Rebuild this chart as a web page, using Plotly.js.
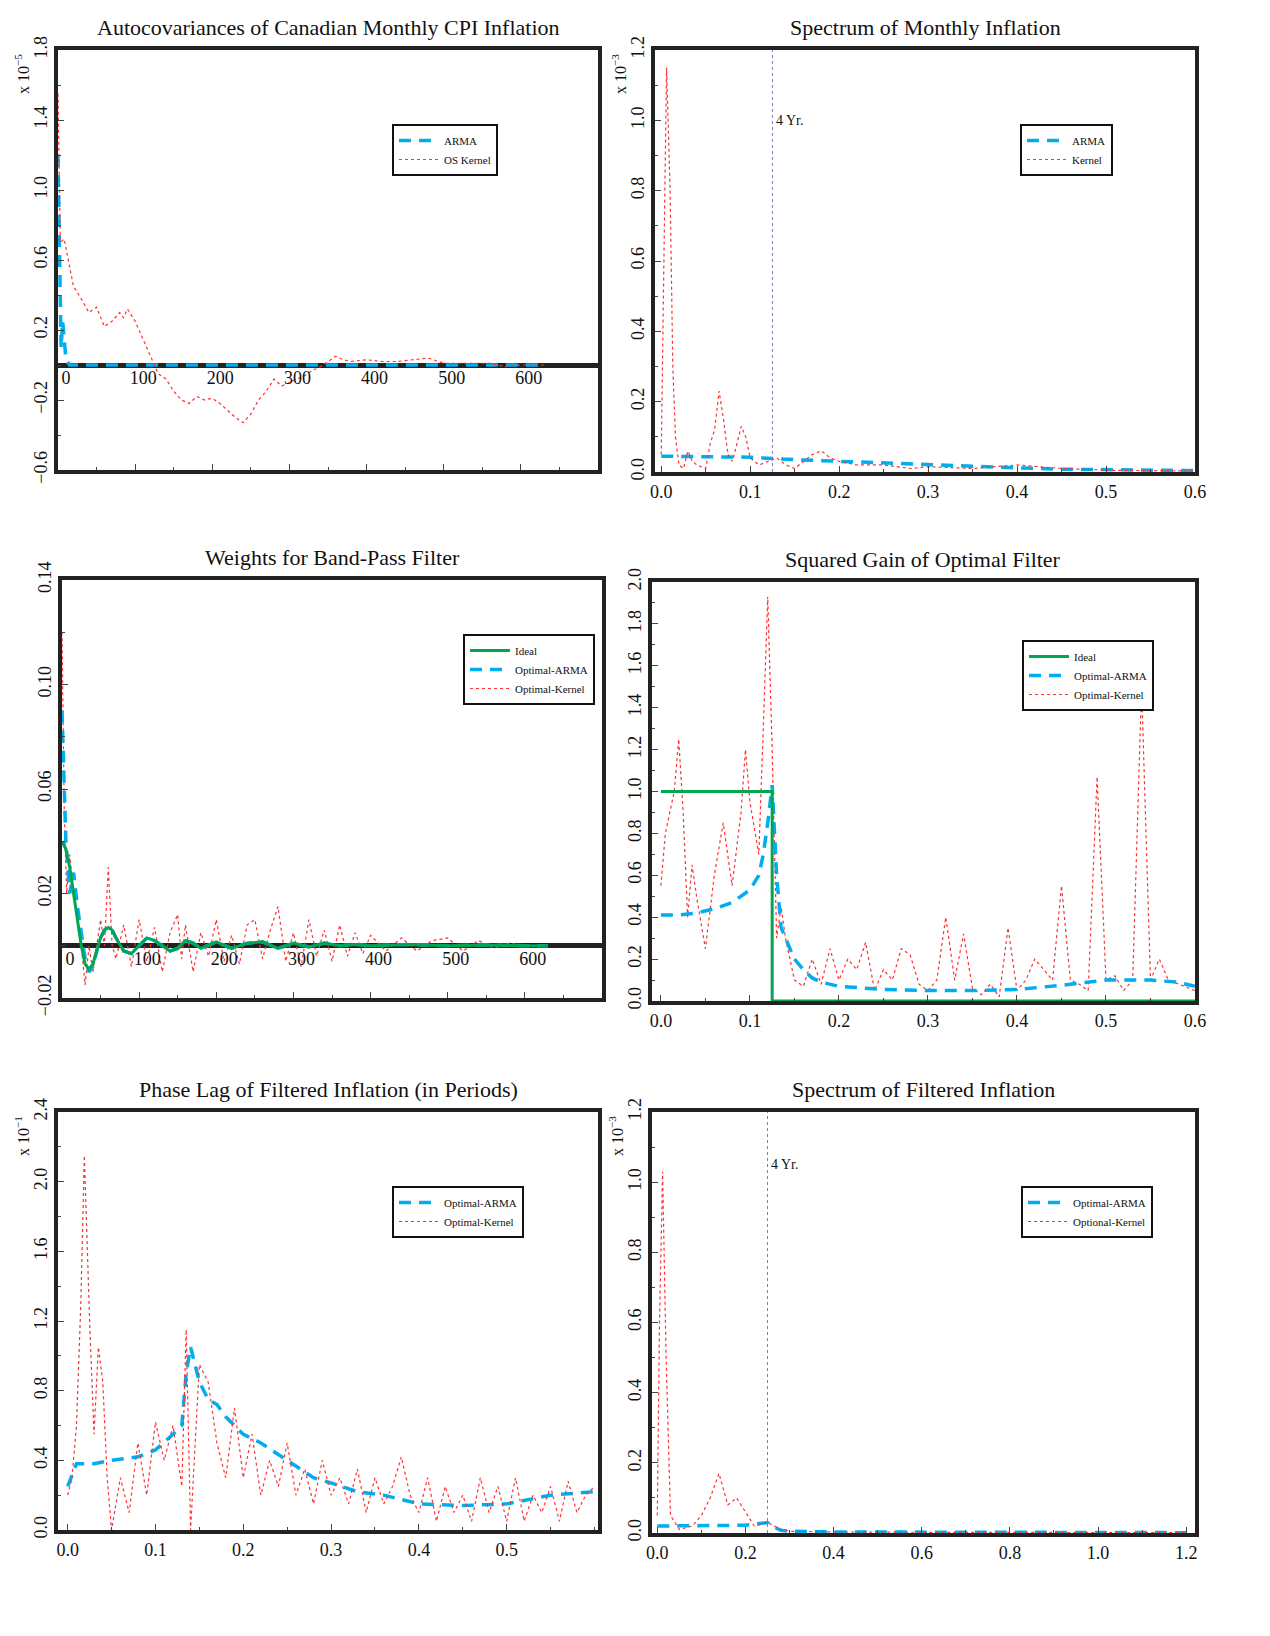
<!DOCTYPE html>
<html><head><meta charset="utf-8">
<script src="https://cdn.plot.ly/plotly-3.0.1.min.js"></script>
<style>body{margin:0;background:#fff}</style>
</head><body>
<div id="chart" style="width:1270px;height:1636px"></div>
<script>
// ---- Panel 1: autocovariances (x 1e-5)
var acLag = [0,2,4,6,8,10,12,15,20,30,60,100,200,300,400,500,600,630];
var acArma = [1.2,0.6,0.1,0.25,0.15,0.05,0.02,0,0,0,0,0,0,0,0,0,0,0];
var acKLag = [0,3,8,15,20,30,40,50,60,70,80,85,90,100,110,120,130,140,150,160,170,180,190,200,210,220,230,240,250,260,270,280,290,300,310,320,330,340,350,360,370,380,400,420,440,460,480,500,520,540,560,580,600,630];
var acKernel = [1.55,0.7,0.72,0.55,0.45,0.38,0.3,0.33,0.22,0.25,0.3,0.27,0.32,0.25,0.15,0.05,-0.05,-0.08,-0.15,-0.2,-0.22,-0.18,-0.2,-0.19,-0.22,-0.26,-0.3,-0.33,-0.28,-0.2,-0.15,-0.08,-0.12,-0.1,-0.08,-0.06,-0.03,-0.01,0.02,0.05,0.03,0.02,0.03,0.02,0.02,0.03,0.04,0.01,0.01,0.01,0.01,-0.01,0,0];

// ---- Panel 2: spectrum of monthly inflation (x 1e-3)
var spFK = [0,0.003,0.006,0.01,0.013,0.016,0.02,0.025,0.03,0.035,0.04,0.05,0.055,0.06,0.065,0.07,0.075,0.08,0.085,0.09,0.095,0.1,0.11,0.12,0.13,0.14,0.15,0.16,0.17,0.18,0.19,0.2,0.22,0.25,0.28,0.3,0.35,0.4,0.45,0.5,0.55,0.6];
var spKernel = [0.05,0.6,1.15,0.8,0.3,0.1,0.02,0.01,0.06,0.03,0.02,0.01,0.08,0.12,0.23,0.15,0.05,0.03,0.08,0.13,0.1,0.04,0.02,0.03,0.04,0.02,0.01,0.03,0.05,0.06,0.04,0.03,0.02,0.02,0.01,0.015,0.01,0.02,0.01,0.005,0.005,0.003];
var spFA = [0,0.1,0.15,0.2,0.25,0.3,0.35,0.4,0.45,0.5,0.55,0.6];
var spArma = [0.045,0.042,0.035,0.03,0.025,0.02,0.016,0.012,0.008,0.006,0.005,0.004];

// ---- Panel 3: weights for band-pass filter
var wLag = [0,5,10,15,20,25,30,35,40,45,50,55,60,65,70,80,90,100,110,120,130,140,150,160,170,180,200,220,240,260,280,300,320,340,360,380,400,450,500,550,600,630];
var wIdeal = [0.04,0.037,0.03,0.02,0.01,0,-0.007,-0.009,-0.007,-0.002,0.003,0.006,0.007,0.006,0.003,-0.002,-0.003,0,0.003,0.002,0,-0.002,-0.001,0.002,0.001,-0.001,0.0015,-0.001,0.001,0.0015,-0.001,0.001,-0.0005,0.001,0,0.0005,0,0.0005,0,0.0003,0,0];
var wArma = [0.09,0.04,0.02,0.028,0.015,0.005,-0.005,-0.01,-0.008,-0.002,0.003,0.006,0.007,0.006,0.003,-0.002,-0.003,0,0.003,0.002,0,-0.002,-0.001,0.002,0.001,-0.001,0.0015,-0.001,0.001,0.0015,-0.001,0.001,-0.0005,0.001,0,0.0005,0,0.0005,0,0.0003,0,0];
var wKLag = [0,3,6,10,15,20,25,30,35,40,50,55,60,65,70,80,90,100,110,120,130,140,150,155,160,170,180,190,200,210,220,230,240,250,260,270,280,290,300,310,320,330,340,350,360,370,380,390,400,420,440,460,480,500,520,540,560,580,600,630];
var wKernel = [0.12,0.05,0.02,0.035,0.02,0.01,0,-0.015,0,-0.01,0.01,0,0.03,0,-0.005,0.008,-0.008,0.01,-0.006,0.007,-0.01,0.005,0.012,-0.005,0.008,-0.01,0.005,-0.004,0.01,-0.006,0.004,-0.007,0.008,0.01,-0.005,0.006,0.015,-0.006,0.005,-0.008,0.01,-0.004,0.006,-0.006,0.008,-0.004,0.005,-0.003,0.004,-0.002,0.003,-0.002,0.002,0.003,-0.002,0.002,-0.001,0.001,0,0];

// ---- Panel 4: squared gain
var gIdealF = [0,0.125,0.125,0.6];
var gIdeal = [1,1,0,0];
var gFA = [0,0.02,0.04,0.06,0.08,0.1,0.11,0.115,0.12,0.125,0.13,0.135,0.14,0.15,0.16,0.17,0.18,0.2,0.25,0.3,0.35,0.4,0.45,0.5,0.55,0.58,0.6];
var gArma = [0.41,0.41,0.42,0.44,0.47,0.53,0.6,0.7,0.85,1.03,0.6,0.35,0.3,0.2,0.15,0.11,0.09,0.07,0.055,0.05,0.05,0.055,0.075,0.1,0.1,0.09,0.07];
var gFK = [0,0.005,0.015,0.02,0.025,0.03,0.035,0.04,0.05,0.06,0.07,0.075,0.08,0.09,0.095,0.1,0.11,0.115,0.12,0.125,0.13,0.135,0.14,0.15,0.16,0.17,0.18,0.19,0.2,0.21,0.22,0.23,0.24,0.25,0.26,0.27,0.28,0.29,0.3,0.31,0.32,0.33,0.34,0.35,0.36,0.37,0.38,0.39,0.4,0.41,0.42,0.43,0.44,0.45,0.46,0.47,0.48,0.49,0.5,0.51,0.52,0.53,0.54,0.55,0.56,0.57,0.6];
var gKernel = [0.55,0.8,1.0,1.25,0.9,0.4,0.65,0.5,0.25,0.6,0.85,0.7,0.55,0.9,1.2,0.95,0.7,1.3,1.93,1.2,0.3,0.45,0.3,0.1,0.07,0.2,0.08,0.25,0.1,0.2,0.15,0.28,0.05,0.15,0.1,0.25,0.22,0.08,0.05,0.1,0.4,0.1,0.32,0.06,0.03,0.08,0.02,0.35,0.05,0.1,0.2,0.15,0.1,0.55,0.1,0.08,0.05,1.07,0.1,0.12,0.05,0.1,1.5,0.1,0.2,0.1,0.05];

// ---- Panel 5: phase lag (x 1e-1)
var pFA = [0,0.01,0.03,0.05,0.08,0.1,0.12,0.13,0.135,0.14,0.15,0.16,0.17,0.18,0.2,0.22,0.25,0.28,0.3,0.33,0.36,0.4,0.45,0.5,0.55,0.6];
var pArma = [0.25,0.38,0.38,0.4,0.42,0.46,0.55,0.6,0.9,1.05,0.85,0.75,0.72,0.65,0.55,0.5,0.4,0.3,0.27,0.22,0.2,0.15,0.14,0.15,0.2,0.22];
var pFK = [0,0.005,0.01,0.015,0.019,0.025,0.03,0.035,0.04,0.045,0.05,0.06,0.07,0.08,0.09,0.1,0.11,0.12,0.13,0.135,0.14,0.15,0.16,0.17,0.18,0.19,0.2,0.21,0.22,0.23,0.24,0.25,0.26,0.27,0.28,0.29,0.3,0.31,0.32,0.33,0.34,0.35,0.36,0.37,0.38,0.39,0.4,0.41,0.42,0.43,0.44,0.45,0.46,0.47,0.48,0.49,0.5,0.51,0.52,0.53,0.54,0.55,0.56,0.57,0.58,0.59,0.6];
var pKernel = [0.2,0.3,0.6,1.3,2.15,1.2,0.55,1.05,0.85,0.3,0,0.3,0.1,0.5,0.2,0.62,0.4,0.6,0.25,1.15,0.0,0.95,0.85,0.5,0.3,0.7,0.3,0.55,0.2,0.4,0.25,0.5,0.2,0.35,0.15,0.4,0.2,0.3,0.15,0.35,0.1,0.3,0.15,0.25,0.42,0.2,0.1,0.3,0.05,0.25,0.1,0.2,0.05,0.3,0.1,0.25,0.05,0.3,0.05,0.2,0.1,0.25,0.05,0.28,0.1,0.2,0.25];

// ---- Panel 6: spectrum of filtered inflation (x 1e-3)
var sFK = [0,0.005,0.012,0.02,0.03,0.05,0.08,0.1,0.12,0.14,0.16,0.18,0.2,0.22,0.25,0.28,0.3,0.4,0.6,0.8,1.0,1.2];
var sKernel = [0.05,0.6,1.03,0.5,0.05,0.01,0.02,0.05,0.1,0.17,0.08,0.1,0.06,0.02,0.03,0.01,0.005,0.003,0.002,0.001,0.001,0.001];
var sFA = [0,0.1,0.2,0.25,0.26,0.28,0.3,0.4,0.6,0.8,1.0,1.2];
var sArma = [0.02,0.02,0.022,0.03,0.02,0.008,0.005,0.003,0.002,0.001,0.001,0.001];

var W = 1270, H = 1636;
var cyan = '#00aeef', red = '#ff3030', green = '#00a651';
var font = {family: 'Liberation Serif, Times New Roman, serif', color: '#111'};

// panels: pixel boxes [left, right, top, bottom]
var boxes = [[58,598,50,470],[655,1195,50,472],[62,602,580,998],[652,1195,582,1001],[58,598,1112,1530],[652,1195,1112,1533]];
function dx(b){ return [b[0]/W, b[1]/W]; }
function dy(b){ return [1-b[3]/H, 1-b[2]/H]; }

var layout = {width: W, height: H, margin: {l:0,r:0,t:0,b:0}, paper_bgcolor:'#fff', plot_bgcolor:'#fff',
  font: Object.assign({size:17}, font), showlegend: true, shapes: [], annotations: []};

var yspec = [
  {range:[-0.6,1.8], dtick:0.4, tick0:-0.6, minor:0.2, fmt:'.1f'},
  {range:[0,1.2], dtick:0.2, tick0:0, minor:0.1, fmt:'.1f'},
  {range:[-0.02,0.14], dtick:0.04, tick0:-0.02, minor:0.02, fmt:'.2f'},
  {range:[0,2.0], dtick:0.2, tick0:0, minor:0.1, fmt:'.1f'},
  {range:[0,2.4], dtick:0.4, tick0:0, minor:0.2, fmt:'.1f'},
  {range:[0,1.2], dtick:0.2, tick0:0, minor:0.1, fmt:'.1f'}
];
var xspec = [
  {range:[0,700], vals:[0,100,200,300,400,500,600], minor:50, fmt:'d'},
  {range:[-0.007,0.6], vals:[0,0.1,0.2,0.3,0.4,0.5,0.6], minor:0.05, fmt:'.1f'},
  {range:[0,700], vals:[0,100,200,300,400,500,600], minor:50, fmt:'d'},
  {range:[-0.01,0.6], vals:[0,0.1,0.2,0.3,0.4,0.5,0.6], minor:0.05, fmt:'.1f'},
  {range:[-0.011,0.604], vals:[0,0.1,0.2,0.3,0.4,0.5], minor:0.05, fmt:'.1f'},
  {range:[-0.012,1.22], vals:[0,0.2,0.4,0.6,0.8,1.0,1.2], minor:0.1, fmt:'.1f'}
];
var titles = ['Autocovariances of Canadian Monthly CPI Inflation','Spectrum of Monthly Inflation','Weights for Band-Pass Filter',
  'Squared Gain of Optimal Filter','Phase Lag of Filtered Inflation (in Periods)','Spectrum of Filtered Inflation'];
var mult = ['x 10<sup>−5</sup>','x 10<sup>−3</sup>',null,null,'x 10<sup>−1</sup>','x 10<sup>−3</sup>'];

for (var i = 0; i < 6; i++) {
  var b = boxes[i], n = i + 1, xs = xspec[i], ys = yspec[i];
  var zeroAxis = (i === 0 || i === 2);
  layout['xaxis' + n] = {domain: dx(b), anchor: 'y' + n, range: xs.range, showgrid: false, zeroline: false,
    showline: true, mirror: true, linewidth: 4, linecolor: '#222', ticks: 'inside', ticklen: 6,
    tickvals: xs.vals, tickformat: xs.fmt, showticklabels: !zeroAxis, tickfont: {size: 18},
    minor: {dtick: xs.minor, ticks: 'inside', ticklen: 3}};
  layout['yaxis' + n] = {domain: dy(b), anchor: 'x' + n, range: ys.range, showgrid: false,
    zeroline: zeroAxis, zerolinewidth: 5, zerolinecolor: '#222',
    showline: true, mirror: true, linewidth: 4, linecolor: '#222', ticks: 'inside', ticklen: 6,
    tick0: ys.tick0, dtick: ys.dtick, tickformat: ys.fmt, tickangle: -90, tickfont: {size: 18},
    minor: {dtick: ys.minor, ticks: 'inside', ticklen: 3}};
  if (zeroAxis) {
    // tick labels drawn along the zero line
    var d = dy(b), pos = d[0] + (0 - ys.range[0]) / (ys.range[1] - ys.range[0]) * (d[1] - d[0]);
    layout['xaxis' + (n + 10)] = {domain: dx(b), overlaying: 'x' + n, anchor: 'free', position: pos,
      range: xs.range, tickvals: xs.vals, tickformat: xs.fmt, showgrid: false, zeroline: false,
      showline: false, ticks: '', tickfont: {size: 18}, ticklabelshift: 8};
  }
  layout.annotations.push({text: titles[i], xref: 'paper', yref: 'paper', x: (b[0] + b[1]) / 2 / W, xanchor: 'center',
    y: 1 - (b[2] - 8) / H, yanchor: 'bottom', showarrow: false, font: {size: 22}});
  if (mult[i]) layout.annotations.push({text: mult[i], xref: 'paper', yref: 'paper', x: (b[0] - 36) / W, xanchor: 'center',
    y: 1 - (b[2] + 2) / H, yanchor: 'top', textangle: -90, showarrow: false, font: {size: 16}});
}

function tr(n, x, y, name, style, lg) {
  var t = {x: x, y: y, name: name, xaxis: 'x' + n, yaxis: 'y' + n, type: 'scatter', mode: 'lines', legend: lg};
  if (style === 'arma') t.line = {color: cyan, width: 3.5, dash: '12px,8px'};
  if (style === 'kernel') t.line = {color: red, width: 1.2, dash: 'dot'};
  if (style === 'ideal') t.line = {color: green, width: 3};
  return t;
}
var data = [
  tr(1, acLag, acArma, 'ARMA', 'arma', 'legend'),
  tr(1, acKLag, acKernel, 'OS Kernel', 'kernel', 'legend'),
  tr(2, spFA, spArma, 'ARMA', 'arma', 'legend2'),
  tr(2, spFK, spKernel, 'Kernel', 'kernel', 'legend2'),
  tr(3, wKLag, wKernel, 'Optimal-Kernel', 'kernel', 'legend3'),
  tr(3, wLag, wArma, 'Optimal-ARMA', 'arma', 'legend3'),
  tr(3, wLag, wIdeal, 'Ideal', 'ideal', 'legend3'),
  tr(4, gFK, gKernel, 'Optimal-Kernel', 'kernel', 'legend4'),
  tr(4, gFA, gArma, 'Optimal-ARMA', 'arma', 'legend4'),
  tr(4, gIdealF, gIdeal, 'Ideal', 'ideal', 'legend4'),
  tr(5, pFA, pArma, 'Optimal-ARMA', 'arma', 'legend5'),
  tr(5, pFK, pKernel, 'Optimal-Kernel', 'kernel', 'legend5'),
  tr(6, sFA, sArma, 'Optimal-ARMA', 'arma', 'legend6'),
  tr(6, sFK, sKernel, 'Optional-Kernel', 'kernel', 'legend6')
];
// invisible traces so the zero-line tick axes render
data.push({x: [0], y: [0], xaxis: 'x11', yaxis: 'y1', mode: 'lines', showlegend: false, hoverinfo: 'skip'});
data.push({x: [0], y: [0], xaxis: 'x13', yaxis: 'y3', mode: 'lines', showlegend: false, hoverinfo: 'skip'});

// legend boxes (pixel top-left corners)
var legPos = [[392,124],[1020,124],[463,634],[1022,640],[392,1186],[1021,1186]];
legPos.forEach(function (p, k) {
  layout[k === 0 ? 'legend' : 'legend' + (k + 1)] = {x: p[0] / W, y: 1 - p[1] / H, xanchor: 'left', yanchor: 'top',
    bgcolor: '#fff', bordercolor: '#111', borderwidth: 2, font: {size: 11}, tracegroupgap: 0,
    traceorder: (k === 2 || k === 3) ? 'reversed' : 'normal', itemwidth: 40};
});

// "4 Yr." reference lines
[[2, 0.125], [6, 0.25]].forEach(function (v) {
  layout.shapes.push({type: 'line', xref: 'x' + v[0], yref: 'y' + v[0] + ' domain', x0: v[1], x1: v[1], y0: 0, y1: 1,
    line: {color: '#7777cc', width: 1, dash: 'dot'}});
  layout.annotations.push({text: '4 Yr.', xref: 'x' + v[0], yref: 'y' + v[0], x: v[1], y: v[0] === 2 ? 1.0 : 1.05,
    xanchor: 'left', xshift: 2, showarrow: false, font: {size: 14}});
});

Plotly.newPlot('chart', data, layout, {displayModeBar: false, staticPlot: true});
</script>
</body></html>
